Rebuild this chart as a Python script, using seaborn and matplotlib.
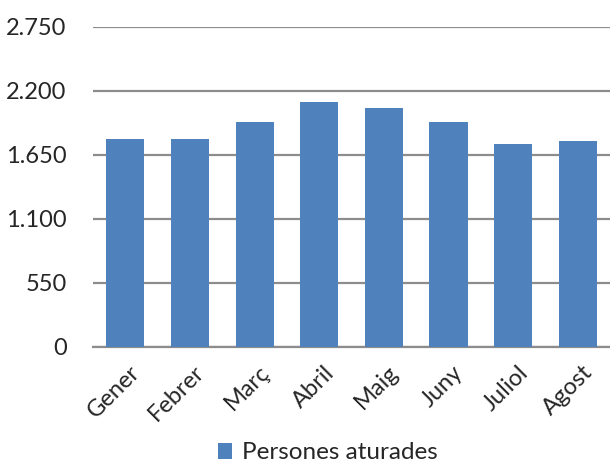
import pandas as pd
import seaborn as sns
import matplotlib.pyplot as plt
import matplotlib.transforms as mtransforms
from matplotlib.ticker import FuncFormatter

mesos = ["Gener", "Febrer", "Març", "Abril", "Maig", "Juny", "Juliol", "Agost"]
aturats = [1785, 1785, 1931, 2108, 2051, 1936, 1742, 1770]
yticks = [0, 550, 1100, 1650, 2200, 2750]

df = pd.DataFrame({"mes": mesos, "Persones aturades": aturats})

sns.set_style("white")
plt.rcParams['font.family'] = ['Lato', 'DejaVu Sans']

fig = plt.figure(figsize=(6.1, 4.65), dpi=100)
ax = fig.add_axes([0.1525, 0.254, 0.8475, 0.688])

sns.barplot(x="mes", y="Persones aturades", data=df, color="#4f81bd", saturation=1,
            width=0.59, ax=ax, label="Persones aturades", linewidth=0, zorder=3)

ax.set_ylim(0, 2750)
ax.set_xlim(-0.5, len(mesos) - 0.5)
ax.set_yticks(yticks)
ax.yaxis.set_major_formatter(FuncFormatter(lambda v, p: f"{int(v):,}".replace(",", ".")))
ax.grid(axis="y", color="#8c8c8c", linewidth=1.6, zorder=0)
ax.set_axisbelow(True)
for s in ["top", "right", "left"]:
    ax.spines[s].set_visible(False)
ax.spines["bottom"].set_color("#8c8c8c")
ax.spines["bottom"].set_linewidth(1.6)
ax.tick_params(axis="y", length=0, labelsize=17, pad=19)
ax.tick_params(axis="x", length=0, labelsize=17, pad=5)
offset = mtransforms.ScaledTranslation(4 / 100, -8 / 100, fig.dpi_scale_trans)
for lab in ax.get_xticklabels():
    lab.set_rotation(45)
    lab.set_ha("right")
    lab.set_rotation_mode("anchor")
    lab.set_transform(lab.get_transform() + offset)
ax.set_xlabel("")
ax.set_ylabel("")

leg = ax.legend(loc="center", bbox_to_anchor=(0.537, 0.026), bbox_transform=fig.transFigure,
                frameon=False, fontsize=17.5, handlelength=0.6, handleheight=0.6,
                handletextpad=0.4, borderpad=0)

plt.savefig("out.png", dpi=100)
